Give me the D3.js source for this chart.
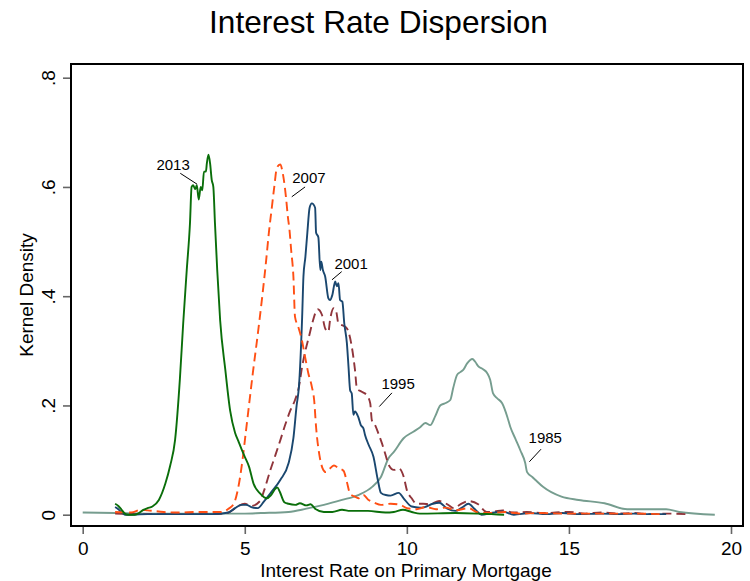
<!DOCTYPE html>
<html><head><meta charset="utf-8">
<script src="https://cdn.jsdelivr.net/npm/d3@7"></script>
<style>body{margin:0;background:#fff}svg{display:block}text{font-family:"Liberation Sans",Arial,sans-serif}</style>
</head><body>
<svg id="c" width="750" height="581"></svg>
<script>
const titleText = "Interest Rate Dispersion";
const xTitle = "Interest Rate on Primary Mortgage";
const yTitle = "Kernel Density";
const xTicks = [0, 5, 10, 15, 20];
const yTicks = [0, 0.2, 0.4, 0.6, 0.8];
const yTickLabels = ["0", ".2", ".4", ".6", ".8"];

const s2013 = [[1.0,0.02],[1.1,0.016],[1.2,0.009],[1.3,0.002],[1.4,0.0],[1.6,0.0],[1.7,0.002],[1.87,0.009],[2.0,0.012],[2.15,0.015],[2.35,0.027],[2.55,0.057],[2.7,0.09],[2.85,0.137],[3.0,0.25],[3.1,0.35],[3.21,0.448],[3.31,0.534],[3.36,0.6],[3.41,0.603],[3.47,0.596],[3.52,0.603],[3.58,0.577],[3.64,0.6],[3.69,0.594],[3.74,0.628],[3.8,0.628],[3.83,0.643],[3.88,0.659],[3.93,0.643],[3.98,0.613],[4.03,0.6],[4.08,0.534],[4.15,0.448],[4.24,0.356],[4.4,0.265],[4.55,0.19],[4.7,0.15],[4.8,0.135],[4.9,0.12],[5.0,0.106],[5.13,0.088],[5.27,0.057],[5.47,0.039],[5.68,0.03],[5.81,0.036],[5.95,0.048],[6.0,0.05],[6.08,0.042],[6.22,0.023],[6.35,0.02],[6.56,0.018],[6.7,0.021],[6.9,0.017],[7.03,0.019],[7.17,0.011],[7.44,0.005],[7.7,0.005],[8.0,0.009],[8.25,0.007],[8.8,0.007],[9.34,0.004],[9.6,0.005],[9.88,0.009],[10.15,0.005],[10.4,0.002],[11.5,0.003],[12.2,0.002],[12.6,0.001],[13.0,0.0]];

const s2007 = [[1.0,0.005],[1.5,0.004],[1.8,0.009],[2.0,0.008],[2.5,0.005],[3.0,0.004],[3.5,0.005],[4.0,0.005],[4.3,0.005],[4.5,0.011],[4.66,0.02],[4.8,0.05],[4.93,0.1],[5.03,0.15],[5.13,0.2],[5.25,0.26],[5.4,0.33],[5.54,0.4],[5.65,0.46],[5.75,0.52],[5.83,0.56],[5.91,0.6],[5.99,0.635],[6.09,0.641],[6.19,0.619],[6.27,0.582],[6.33,0.545],[6.38,0.521],[6.43,0.485],[6.5,0.436],[6.55,0.362],[6.65,0.344],[6.76,0.32],[6.86,0.289],[6.96,0.259],[7.07,0.234],[7.14,0.21],[7.2,0.16],[7.3,0.11],[7.4,0.085],[7.5,0.078],[7.6,0.083],[7.75,0.09],[7.9,0.085],[8.05,0.08],[8.15,0.06],[8.25,0.038],[8.4,0.033],[8.5,0.03],[8.66,0.036],[8.8,0.028],[9.0,0.022],[9.2,0.018],[9.5,0.02],[9.8,0.018],[10.0,0.012],[10.3,0.01],[10.6,0.014],[10.9,0.01],[11.2,0.013],[11.5,0.008],[11.9,0.012],[12.2,0.004],[12.6,0.003],[13.0,0.005],[13.5,0.002],[14.0,0.003],[15.0,0.002],[16.0,0.002],[17.0,0.002],[17.8,0.001]];

const s2001 = [[1.0,0.014],[1.1,0.01],[1.2,0.004],[1.3,0.0],[2.0,0.001],[3.0,0.001],[4.0,0.001],[4.5,0.004],[4.7,0.012],[4.9,0.018],[5.05,0.018],[5.2,0.014],[5.4,0.012],[5.6,0.025],[5.8,0.04],[6.1,0.064],[6.35,0.094],[6.5,0.14],[6.6,0.2],[6.67,0.234],[6.77,0.362],[6.81,0.436],[6.87,0.472],[6.93,0.516],[7.0,0.562],[7.07,0.57],[7.17,0.562],[7.2,0.516],[7.27,0.508],[7.33,0.448],[7.36,0.463],[7.41,0.448],[7.48,0.436],[7.58,0.396],[7.63,0.393],[7.7,0.402],[7.79,0.427],[7.84,0.418],[7.89,0.424],[7.94,0.393],[8.01,0.39],[8.07,0.35],[8.15,0.314],[8.2,0.271],[8.25,0.228],[8.3,0.222],[8.35,0.183],[8.4,0.189],[8.5,0.179],[8.58,0.164],[8.66,0.158],[8.71,0.146],[8.82,0.128],[8.97,0.106],[9.1,0.065],[9.2,0.04],[9.35,0.036],[9.5,0.035],[9.75,0.04],[9.9,0.03],[10.15,0.015],[10.4,0.013],[10.55,0.014],[10.8,0.02],[11.0,0.022],[11.25,0.011],[11.5,0.007],[11.7,0.013],[11.9,0.02],[12.1,0.01],[12.3,0.0],[12.6,0.003],[12.95,0.006],[13.3,0.0],[13.8,0.003],[14.3,0.001],[14.8,0.003],[15.3,0.001],[16.0,0.002],[16.5,0.001],[17.0,0.002],[17.5,0.001],[18.0,0.001]];

const s1995 = [[1.0,0.002],[2.0,0.001],[3.0,0.001],[4.0,0.001],[4.5,0.004],[4.7,0.012],[5.0,0.02],[5.2,0.016],[5.47,0.025],[5.6,0.045],[5.78,0.08],[5.95,0.11],[6.1,0.137],[6.25,0.165],[6.4,0.19],[6.55,0.21],[6.67,0.234],[6.77,0.271],[6.87,0.3],[6.98,0.326],[7.08,0.35],[7.25,0.376],[7.38,0.366],[7.48,0.341],[7.58,0.335],[7.63,0.356],[7.74,0.378],[7.82,0.372],[7.89,0.35],[8.0,0.347],[8.1,0.344],[8.2,0.335],[8.3,0.308],[8.4,0.265],[8.46,0.231],[8.61,0.225],[8.76,0.219],[8.87,0.204],[8.92,0.173],[9.02,0.164],[9.12,0.149],[9.23,0.131],[9.33,0.112],[9.45,0.09],[9.6,0.082],[9.75,0.085],[9.9,0.07],[10.0,0.045],[10.15,0.03],[10.3,0.02],[10.5,0.02],[10.7,0.019],[11.0,0.025],[11.25,0.019],[11.45,0.012],[11.65,0.019],[11.9,0.025],[12.2,0.019],[12.46,0.005],[12.7,0.006],[12.95,0.008],[13.3,0.004],[13.7,0.005],[14.2,0.003],[15.0,0.005],[15.5,0.002],[16.0,0.004],[16.5,0.002],[17.0,0.003],[17.5,0.001],[18.0,0.002],[18.6,0.001]];

const s1985 = [[0.0,0.004],[1.0,0.003],[2.0,0.002],[3.0,0.002],[4.0,0.002],[5.0,0.002],[5.5,0.003],[6.35,0.005],[6.9,0.011],[7.44,0.018],[8.0,0.027],[8.5,0.036],[8.93,0.051],[9.2,0.069],[9.43,0.103],[9.6,0.115],[9.9,0.14],[10.2,0.152],[10.41,0.16],[10.57,0.168],[10.72,0.164],[10.88,0.181],[11.03,0.2],[11.18,0.204],[11.34,0.21],[11.43,0.232],[11.55,0.256],[11.65,0.261],[11.74,0.265],[11.86,0.277],[12.02,0.285],[12.11,0.28],[12.2,0.272],[12.36,0.266],[12.48,0.259],[12.57,0.247],[12.66,0.222],[12.79,0.213],[12.94,0.204],[13.1,0.179],[13.19,0.161],[13.34,0.14],[13.5,0.118],[13.65,0.095],[13.71,0.078],[13.87,0.069],[13.96,0.064],[14.2,0.051],[14.77,0.033],[15.3,0.027],[16.1,0.021],[16.8,0.01],[18.0,0.01],[18.4,0.005],[19.5,0.0]];

const seriesNames = ["1985", "1995", "2001", "2007", "2013"];
const seriesData = [s1985, s1995, s2001, s2007, s2013];
const seriesColors = ["#769d8f", "#90353b", "#1a476f", "#ff4f14", "#0a6e0a"];
const seriesDash = [null, "9,5", null, "9,5", null];

// label: [text x, text baseline y, leader start x, y, leader end x, y] in data units
const labelPos = [[14.27,0.131,14.14,0.12,13.78,0.097],[9.73,0.23,9.54,0.223,9.15,0.198],[8.28,0.45,7.99,0.445,7.69,0.43],[6.98,0.607,6.86,0.6,6.45,0.582],[2.79,0.631,3.01,0.625,3.53,0.605]];

const svg = d3.select("#c");
const frame = {l: 71, r: 743, t: 64, b: 526};
const x = d3.scaleLinear().domain([0, 20]).range([82.7, 731]);
const y = d3.scaleLinear().domain([0, 0.8]).range([514.7, 77.7]);

svg.append("text").attr("x", 378.5).attr("y", 33).attr("text-anchor", "middle")
  .attr("font-size", 31.6).attr("fill", "#000").text(titleText);

// y axis
const yAxis = svg.append("g").attr("transform", `translate(${frame.l},0)`)
  .call(d3.axisLeft(y).tickValues(yTicks).tickSize(8).tickPadding(6).tickFormat((d,i)=>yTickLabels[i]));
yAxis.select(".domain").remove();
yAxis.selectAll(".tick line").attr("stroke", "#666").attr("stroke-width", 1.6);
yAxis.selectAll(".tick text").attr("font-size", 19).attr("fill", "#000")
  .attr("text-anchor", "middle").attr("x", null).attr("dy", null)
  .attr("transform", "translate(-16,0) rotate(-90)").attr("y", 0);

// x axis
const xAxis = svg.append("g").attr("transform", `translate(0,${frame.b})`)
  .call(d3.axisBottom(x).tickValues(xTicks).tickSize(8).tickPadding(6).tickFormat(d3.format("d")));
xAxis.select(".domain").remove();
xAxis.selectAll(".tick line").attr("stroke", "#666").attr("stroke-width", 1.6);
xAxis.selectAll(".tick text").attr("font-size", 19).attr("fill", "#000").attr("dy", null).attr("y", 29);

svg.append("text").attr("x", 406).attr("y", 577).attr("text-anchor", "middle")
  .attr("font-size", 19).attr("fill", "#000").text(xTitle);
svg.append("text").attr("transform", `translate(33,${(frame.t+frame.b)/2}) rotate(-90)`)
  .attr("text-anchor", "middle").attr("font-size", 19).attr("fill", "#000").text(yTitle);

const line = d3.line().x(d => x(d[0])).y(d => y(d[1])).curve(d3.curveMonotoneX);
seriesData.forEach((s, i) => {
  svg.append("path").datum(s).attr("d", line).attr("fill", "none")
    .attr("stroke", seriesColors[i]).attr("stroke-width", 1.9)
    .attr("stroke-linejoin", "round")
    .attr("stroke-dasharray", seriesDash[i]);
});

labelPos.forEach((p, i) => {
  svg.append("text").attr("x", x(p[0])).attr("y", y(p[1])).attr("text-anchor", "middle")
    .attr("font-size", 15).attr("fill", "#000").text(seriesNames[i]);
  svg.append("line").attr("x1", x(p[2])).attr("y1", y(p[3])).attr("x2", x(p[4])).attr("y2", y(p[5]))
    .attr("stroke", "#000").attr("stroke-width", 1);
});

svg.append("rect").attr("x", frame.l).attr("y", frame.t).attr("width", frame.r - frame.l)
  .attr("height", frame.b - frame.t).attr("fill", "none").attr("stroke", "#000").attr("stroke-width", 2);
</script>
</body></html>
